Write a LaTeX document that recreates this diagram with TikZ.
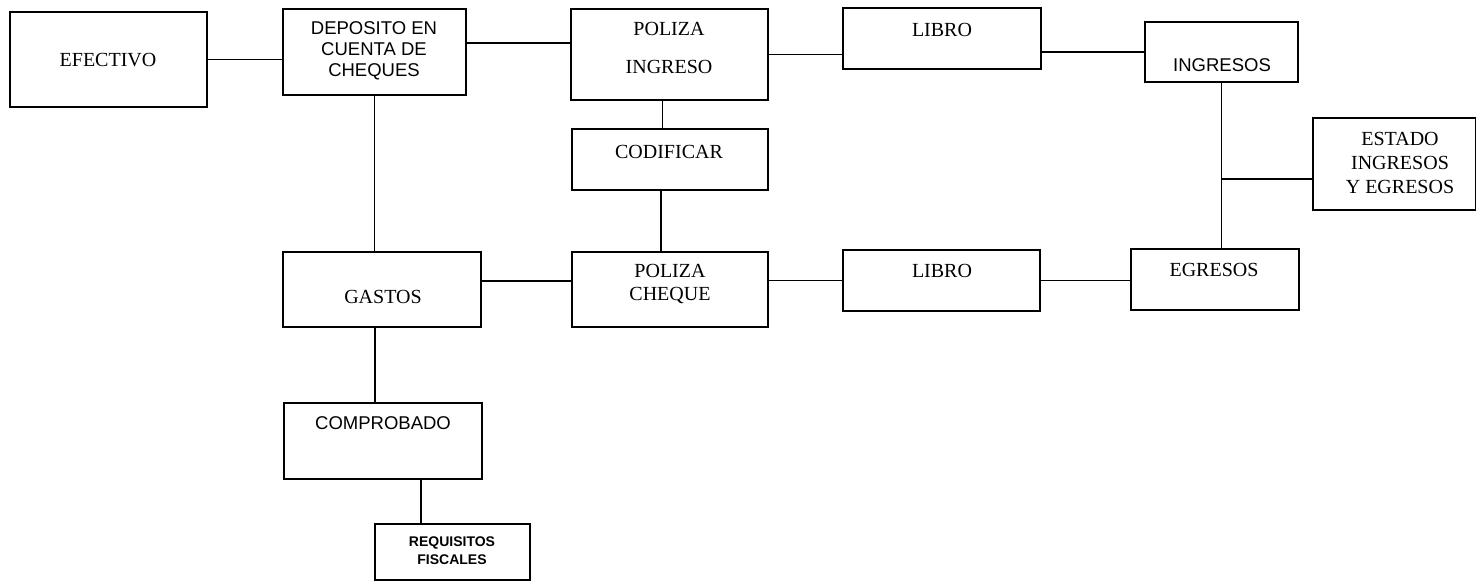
\documentclass[tikz,border=0pt]{standalone}
\usepackage{fontspec}
\setmainfont{Liberation Serif}
\newfontfamily\arfont{Liberation Sans}
\tikzset{
  box/.style={draw, line width=1.8pt, rectangle, inner sep=0pt, outer sep=0pt},
  conn/.style={line width=1.8pt},
  serif/.style={inner sep=0pt, align=center, font=\fontsize{20}{24}\selectfont},
  sans/.style={inner sep=0pt, align=center, font=\arfont\fontsize{18.5}{21}\selectfont},
  tiny/.style={inner sep=0pt, align=center, font=\arfont\bfseries\fontsize{14}{18}\selectfont},
}
\begin{document}
\begin{tikzpicture}[x=1pt,y=-1pt]
\useasboundingbox[fill=white] (0,0) rectangle (1476,584);
% boxes
\node[box, minimum width=197pt, minimum height=95pt] (efectivo) at (108.5,59.5) {};
\node[box, minimum width=183pt, minimum height=86pt] (deposito) at (374.5,52) {};
\node[box, minimum width=197pt, minimum height=91pt] (polizaI) at (669.5,54.5) {};
\node[box, minimum width=196pt, minimum height=61pt] (codificar) at (670,159.5) {};
\node[box, minimum width=198pt, minimum height=61pt] (libroI) at (942,38.5) {};
\node[box, minimum width=153pt, minimum height=60pt] (ingresos) at (1221.5,52) {};
\node[box, minimum width=162.5pt, minimum height=92pt] (estado) at (1394.25,164) {};
\node[box, minimum width=198pt, minimum height=75pt] (gastos) at (382,289.5) {};
\node[box, minimum width=196pt, minimum height=75pt] (polizaC) at (670,289.5) {};
\node[box, minimum width=197pt, minimum height=61pt] (libroC) at (941.5,280.5) {};
\node[box, minimum width=168pt, minimum height=61pt] (egresos) at (1215,279.5) {};
\node[box, minimum width=198pt, minimum height=76pt] (comprobado) at (383,441) {};
\node[box, minimum width=155pt, minimum height=56pt] (requisitos) at (452.5,552) {};
% texts
\node[serif] (tEfectivo) at (108,60) {EFECTIVO};
\node[sans] (tDeposito) at (374,51) {DEPOSITO EN\\CUENTA DE\\CHEQUES};
\node[serif, font=\fontsize{20}{38}\selectfont] (tPolizaI) at (669,48) {POLIZA\\INGRESO};
\node[serif] (tCodificar) at (669,152) {CODIFICAR};
\node[serif] (tLibroI) at (942,30) {LIBRO};
\node[sans] (tIngresos) at (1222,65) {INGRESOS};
\node[serif] (tEstado) at (1400,163) {ESTADO\\INGRESOS\\Y EGRESOS};
\node[serif] (tGastos) at (383,297) {GASTOS};
\node[serif, font=\fontsize{20}{23}\selectfont] (tPolizaC) at (670,284) {POLIZA\\CHEQUE};
\node[serif] (tLibroC) at (942,271) {LIBRO};
\node[serif] (tEgresos) at (1214,270) {EGRESOS};
\node[sans] (tComprobado) at (383,423) {COMPROBADO};
\node[tiny] (tRequisitos) at (452,551) {REQUISITOS\\FISCALES};
% connectors
\draw[conn] (efectivo.east) -- (efectivo.east -| deposito.west);
\draw[conn] ([yshift=9pt]deposito.east) -- ([yshift=9pt]deposito.east -| polizaI.west);
\draw[conn] (polizaI.east) -- (polizaI.east -| libroI.west);
\draw[conn] (ingresos.west -| libroI.east) -- (ingresos.west);
\draw[conn] (deposito.south) -- (deposito.south |- gastos.north);
\draw[conn] ([xshift=-7pt]polizaI.south) -- ([xshift=-7pt]polizaI.south |- codificar.north);
\draw[conn] ([xshift=-9pt]codificar.south) -- ([xshift=-9pt]codificar.south |- polizaC.north);
\draw[conn] (ingresos.south) -- (ingresos.south |- egresos.north);
\draw[conn] ([yshift=-15pt]estado.west) -- ([yshift=-15pt]estado.west -| ingresos.south);
\draw[conn] ([yshift=8.5pt]gastos.east) -- ([yshift=8.5pt]gastos.east -| polizaC.west);
\draw[conn] (libroC.west -| polizaC.east) -- (libroC.west);
\draw[conn] (libroC.east) -- (libroC.east -| egresos.west);
\draw[conn] ([xshift=-7pt]gastos.south) -- ([xshift=-7pt]gastos.south |- comprobado.north);
\draw[conn] ([xshift=38pt]comprobado.south) -- ([xshift=38pt]comprobado.south |- requisitos.north);
\end{tikzpicture}
\end{document}
